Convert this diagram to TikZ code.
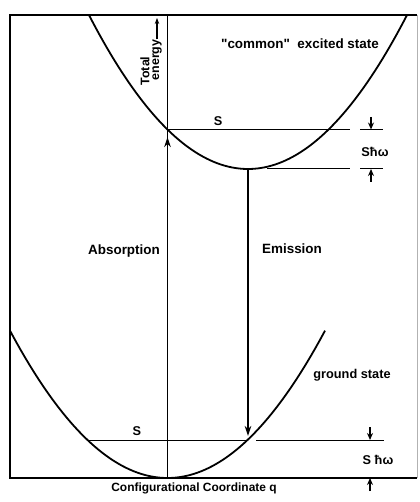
\documentclass[tikz,border=0pt]{standalone}
\usepackage{fontspec}
\setmainfont{Liberation Sans}[Ligatures=TeXOff]
\usetikzlibrary{arrows.meta}

\begin{document}
\begin{tikzpicture}[x=1bp, y=-1bp,
    frame/.style={line width=1.6bp},
    curve/.style={line width=1.8bp},
    level/.style={line width=1bp},
    axis/.style={line width=1.4bp},
    tip/.style={-{Stealth[length=10bp,width=6.5bp]}, line width=1.4bp},
    ticktip/.style={-{Stealth[length=7bp,width=6bp]}, line width=1.2bp},
    lbl/.style={font=\bfseries\fontsize{13.5}{15}\selectfont, inner sep=0pt},
    mid/.style={font=\bfseries\fontsize{12.8}{15}\selectfont, inner sep=0pt},
    small/.style={font=\bfseries\fontsize{12.5}{14}\selectfont, inner sep=0pt}]
  \useasboundingbox (0,0) rectangle (419,502);

  % frame and energy axis
  \coordinate (tl) at (10,15);
  \coordinate (tr) at (417,15);
  \coordinate (bl) at (10,478);
  \coordinate (br) at (417,478);
  \draw[frame] (tr) -- (tl) -- (bl) -- (br);
  \draw[line width=0.4bp, black!30] (tr) -- (br);
  \coordinate (top) at (167.5,15);
  \coordinate (g0)  at (167.5,478);
  \draw[axis] (top) -- (g0);

  % potential curves
  \draw[curve] plot[domain=89:407, samples=90] (\x, {169-(0.07804*(\x-248))^2});
  \draw[curve] plot[domain=10:325, samples=90] (\x, {478-(0.07707*(\x-167.5))^2});

  % excited state levels
  \coordinate (ea) at (167.5,129.5);
  \coordinate (ea2) at (350,129.5);
  \coordinate (e0) at (248,169);
  \coordinate (e1) at (267,169);
  \coordinate (e2) at (350,169);
  \draw[level] (ea) -- (ea2);
  \draw[level] (e1) -- (e2);
  \coordinate (t1a) at (360,129.5);
  \coordinate (t1b) at (383,129.5);
  \coordinate (t2a) at (360,169);
  \coordinate (t2b) at (383,169);
  \draw[level] (t1a) -- (t1b);
  \draw[level] (t2a) -- (t2b);
  \coordinate (d1) at (371,117);
  \coordinate (d1e) at (371,129.5);
  \coordinate (d2) at (371,182);
  \coordinate (d2e) at (371,169);
  \draw[ticktip] (d1) -- (d1e);
  \draw[ticktip] (d2) -- (d2e);

  % ground state levels
  \coordinate (ga) at (87,440);
  \coordinate (gb) at (247.5,440);
  \coordinate (gc) at (256,440);
  \coordinate (gd) at (384,440);
  \draw[level] (ga) -- (gb);
  \draw[level] (gc) -- (gd);
  \coordinate (d3) at (370,427);
  \coordinate (d3e) at (370,440);
  \coordinate (d4) at (370,491);
  \coordinate (d4e) at (370,478);
  \draw[ticktip] (d3) -- (d3e);
  \draw[ticktip] (d4) -- (d4e);

  % transitions
  \coordinate (abs) at (167.5,137);
  \coordinate (em)  at (248,436);
  \draw[tip] (g0) -- (abs);
  \draw[tip] (e0) -- (em);

  % labels
  \node[lbl] (exc) at (300,44) {"common"\ \ excited state};
  \node[mid] (gnd) at (352,375) {ground state};
  \node[mid] (sa) at (218,121) {S};
  \node[mid] (sb) at (137,431) {S};
  \node[mid] (shw1) at (375,152) {Sħω};
  \node[mid] (shw2) at (378,460) {S ħω};
  \node[lbl] (absl) at (124,251) {Absorption};
  \node[lbl] (eml) at (292,249) {Emission};
  \node[mid, font=\bfseries\fontsize{12}{14}\selectfont] (cq) at (194,488) {Configurational Coordinate q};
  \node[small, rotate=90] (tot) at (145,71) {Total};
  \node[small, rotate=90] (en) at (157,60) {energy};
  \coordinate (up) at (157,18);
  \draw[-{Stealth[length=6bp,width=4.5bp]}, line width=1.1bp] (en.east) -- (up);
\end{tikzpicture}
\end{document}
